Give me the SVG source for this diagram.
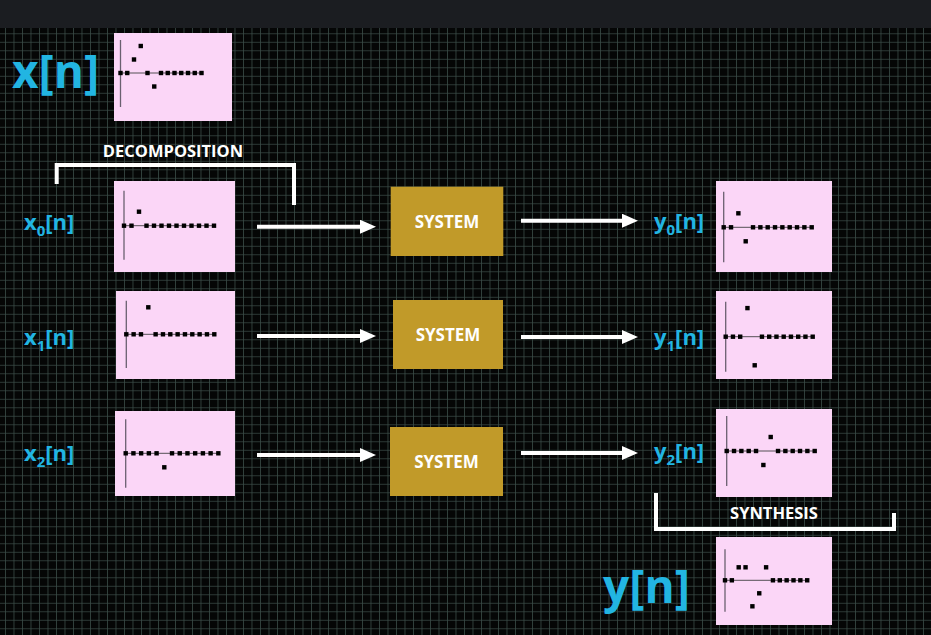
<svg xmlns="http://www.w3.org/2000/svg" xmlns:xlink="http://www.w3.org/1999/xlink" width="931" height="635" viewBox="0 0 931 635">
<defs>
<pattern id="grid" patternUnits="userSpaceOnUse" x="5" y="33.3" width="8.5" height="8.5">
<path d="M0 0H8.5M0 0V8.5" stroke="#3a4b47" stroke-width="1.6" fill="none"/>
</pattern>
<marker id="ah" markerUnits="userSpaceOnUse" viewBox="0 0 16 14" markerWidth="16" markerHeight="14" refX="6" refY="7" orient="auto">
<path d="M0 0L16 7L0 14z" fill="#ffffff"/>
</marker>
<rect id="d" x="-2.2" y="-2.2" width="4.4" height="4.4" fill="#000"/>
</defs>
<style>
.plot{fill:#fbd6f7}
.sys{fill:#c19a29}
.sys-t{font-family:"Open Sans","Liberation Sans",sans-serif;font-weight:700;font-size:17px;fill:#ffffff;text-anchor:middle}
.lbl{font-family:"Open Sans","Liberation Sans",sans-serif;font-weight:700;font-size:22px;fill:#22b5e2}
.big{font-family:"Open Sans","Liberation Sans",sans-serif;font-weight:700;font-size:46px;fill:#22b5e2}
.cap{font-family:"Open Sans","Liberation Sans",sans-serif;font-weight:700;font-size:16.5px;fill:#ffffff;text-anchor:middle}
.vax{stroke:#6a6070;stroke-width:1.3}
.hax{stroke:#555055;stroke-width:1}
.arr{stroke:#ffffff;stroke-width:4;fill:none;marker-end:url(#ah)}
.brk{stroke:#ffffff;stroke-width:4;fill:none}
</style>
<rect x="0" y="0" width="931" height="635" fill="#050606"/>
<rect x="0" y="28" width="931" height="607" fill="url(#grid)"/>
<rect x="0" y="0" width="931" height="28" fill="#1b1d21"/>

<g id="x-n">
<text class="big" x="12" y="88">x[n]</text>
<rect class="plot" x="114" y="33" width="118" height="88"/>
<g transform="translate(120.5,73)">
<line class="vax" x1="0" y1="-33" x2="0" y2="34"/>
<line class="hax" x1="0" y1="0" x2="81" y2="0"/>
<use href="#d" x="0" y="0"/><use href="#d" x="6.75" y="0"/><use href="#d" x="13.5" y="-13.5"/><use href="#d" x="20.25" y="-27"/><use href="#d" x="27" y="0"/><use href="#d" x="33.75" y="13.5"/><use href="#d" x="40.5" y="0"/><use href="#d" x="47.25" y="0"/><use href="#d" x="54" y="0"/><use href="#d" x="60.75" y="0"/><use href="#d" x="67.5" y="0"/><use href="#d" x="74.25" y="0"/><use href="#d" x="81" y="0"/>
</g>
</g>

<g id="decomposition">
<text class="cap" x="173" y="157">DECOMPOSITION</text>
<path class="brk" d="M56.7 184V165H294V205"/>
</g>

<g id="x0-n">
<text class="lbl" x="24" y="230">x<tspan font-size="15" dy="6">0</tspan><tspan dy="-6">[n]</tspan></text>
<rect class="plot" x="114" y="181" width="121" height="91"/>
<g transform="translate(124,225.7)">
<line class="vax" x1="0" y1="-35" x2="0" y2="34"/>
<line class="hax" x1="0" y1="0" x2="90" y2="0"/>
<use href="#d" x="0" y="0"/><use href="#d" x="7.5" y="0"/><use href="#d" x="15" y="-14"/><use href="#d" x="22.5" y="0"/><use href="#d" x="30" y="0"/><use href="#d" x="37.5" y="0"/><use href="#d" x="45" y="0"/><use href="#d" x="52.5" y="0"/><use href="#d" x="60" y="0"/><use href="#d" x="67.5" y="0"/><use href="#d" x="75" y="0"/><use href="#d" x="82.5" y="0"/><use href="#d" x="90" y="0"/>
</g>
</g>

<g id="x1-n">
<text class="lbl" x="24" y="345">x<tspan font-size="15" dy="6">1</tspan><tspan dy="-6">[n]</tspan></text>
<rect class="plot" x="116" y="291" width="119" height="88"/>
<g transform="translate(126.3,334.3)">
<line class="vax" x1="0" y1="-33.5" x2="0" y2="33.7"/>
<line class="hax" x1="0" y1="0" x2="88" y2="0"/>
<use href="#d" x="0" y="0"/><use href="#d" x="7.33" y="0"/><use href="#d" x="14.67" y="0"/><use href="#d" x="22" y="-27"/><use href="#d" x="29.33" y="0"/><use href="#d" x="36.67" y="0"/><use href="#d" x="44" y="0"/><use href="#d" x="51.33" y="0"/><use href="#d" x="58.67" y="0"/><use href="#d" x="66" y="0"/><use href="#d" x="73.33" y="0"/><use href="#d" x="80.67" y="0"/><use href="#d" x="88" y="0"/>
</g>
</g>

<g id="x2-n">
<text class="lbl" x="24" y="461">x<tspan font-size="15" dy="6">2</tspan><tspan dy="-6">[n]</tspan></text>
<rect class="plot" x="115" y="411" width="120" height="85"/>
<g transform="translate(125.7,453.3)">
<line class="vax" x1="0" y1="-34" x2="0" y2="34.5"/>
<line class="hax" x1="0" y1="0" x2="92.6" y2="0"/>
<use href="#d" x="0" y="0"/><use href="#d" x="7.72" y="0"/><use href="#d" x="15.44" y="0"/><use href="#d" x="23.16" y="0"/><use href="#d" x="30.88" y="0"/><use href="#d" x="38.6" y="14"/><use href="#d" x="46.32" y="0"/><use href="#d" x="54.04" y="0"/><use href="#d" x="61.76" y="0"/><use href="#d" x="69.48" y="0"/><use href="#d" x="77.2" y="0"/><use href="#d" x="84.92" y="0"/><use href="#d" x="92.64" y="0"/>
</g>
</g>

<g id="system-0">
<rect class="sys" x="390.7" y="186.7" width="112.6" height="69.3"/>
<text class="sys-t" x="447" y="228">SYSTEM</text>
</g>
<g id="system-1">
<rect class="sys" x="393" y="300" width="110" height="69"/>
<text class="sys-t" x="448" y="341">SYSTEM</text>
</g>
<g id="system-2">
<rect class="sys" x="390" y="427" width="113" height="69"/>
<text class="sys-t" x="446.5" y="468">SYSTEM</text>
</g>

<g id="y0-n">
<text class="lbl" x="654" y="229">y<tspan font-size="15" dy="6">0</tspan><tspan dy="-6">[n]</tspan></text>
<rect class="plot" x="716" y="181" width="116" height="91"/>
<g transform="translate(723.7,227.3)">
<line class="vax" x1="0" y1="-35.5" x2="0" y2="35"/>
<line class="hax" x1="0" y1="0" x2="88" y2="0"/>
<use href="#d" x="0" y="0"/><use href="#d" x="7.33" y="0"/><use href="#d" x="14.67" y="-14"/><use href="#d" x="22" y="14"/><use href="#d" x="29.33" y="0"/><use href="#d" x="36.67" y="0"/><use href="#d" x="44" y="0"/><use href="#d" x="51.33" y="0"/><use href="#d" x="58.67" y="0"/><use href="#d" x="66" y="0"/><use href="#d" x="73.33" y="0"/><use href="#d" x="80.67" y="0"/><use href="#d" x="88" y="0"/>
</g>
</g>

<g id="y1-n">
<text class="lbl" x="654" y="345">y<tspan font-size="15" dy="6">1</tspan><tspan dy="-6">[n]</tspan></text>
<rect class="plot" x="716" y="291" width="116" height="88"/>
<g transform="translate(725.7,336.7)">
<line class="vax" x1="0" y1="-35" x2="0" y2="35"/>
<line class="hax" x1="0" y1="0" x2="87" y2="0"/>
<use href="#d" x="0" y="0"/><use href="#d" x="7.25" y="0"/><use href="#d" x="14.5" y="0"/><use href="#d" x="21.75" y="-28.6"/><use href="#d" x="29" y="28.6"/><use href="#d" x="36.25" y="0"/><use href="#d" x="43.5" y="0"/><use href="#d" x="50.75" y="0"/><use href="#d" x="58" y="0"/><use href="#d" x="65.25" y="0"/><use href="#d" x="72.5" y="0"/><use href="#d" x="79.75" y="0"/><use href="#d" x="87" y="0"/>
</g>
</g>

<g id="y2-n">
<text class="lbl" x="654" y="459">y<tspan font-size="15" dy="6">2</tspan><tspan dy="-6">[n]</tspan></text>
<rect class="plot" x="716" y="409" width="116" height="88"/>
<g transform="translate(726.7,451)">
<line class="vax" x1="0" y1="-35" x2="0" y2="35"/>
<line class="hax" x1="0" y1="0" x2="88" y2="0"/>
<use href="#d" x="0" y="0"/><use href="#d" x="7.33" y="0"/><use href="#d" x="14.67" y="0"/><use href="#d" x="22" y="0"/><use href="#d" x="29.33" y="0"/><use href="#d" x="36.67" y="14"/><use href="#d" x="44" y="-14"/><use href="#d" x="51.33" y="0"/><use href="#d" x="58.67" y="0"/><use href="#d" x="66" y="0"/><use href="#d" x="73.33" y="0"/><use href="#d" x="80.67" y="0"/><use href="#d" x="88" y="0"/>
</g>
</g>

<g id="synthesis">
<text class="cap" x="774" y="519" font-size="16">SYNTHESIS</text>
<path class="brk" d="M656 493V529H894V513"/>
</g>

<g id="y-n">
<text class="big" x="603" y="603">y[n]</text>
<rect class="plot" x="716" y="537" width="116" height="88"/>
<g transform="translate(725,580.3)">
<line class="vax" x1="0" y1="-31" x2="0" y2="31.5"/>
<line class="hax" x1="0" y1="0" x2="82.2" y2="0"/>
<use href="#d" x="0" y="0"/><use href="#d" x="6.85" y="0"/><use href="#d" x="13.7" y="-13"/><use href="#d" x="20.55" y="-13"/><use href="#d" x="27.4" y="26"/><use href="#d" x="34.25" y="13"/><use href="#d" x="41.1" y="-13"/><use href="#d" x="47.95" y="0"/><use href="#d" x="54.8" y="0"/><use href="#d" x="61.65" y="0"/><use href="#d" x="68.5" y="0"/><use href="#d" x="75.35" y="0"/><use href="#d" x="82.2" y="0"/>
</g>
</g>

<g id="connectors">
<line class="arr" x1="257" y1="226.7" x2="366" y2="226.7"/>
<line class="arr" x1="521" y1="220.7" x2="628" y2="220.7"/>
<line class="arr" x1="257" y1="336" x2="366" y2="336"/>
<line class="arr" x1="521" y1="337" x2="628" y2="337"/>
<line class="arr" x1="257" y1="455" x2="366" y2="455"/>
<line class="arr" x1="521" y1="453" x2="628" y2="453"/>
</g>
</svg>
